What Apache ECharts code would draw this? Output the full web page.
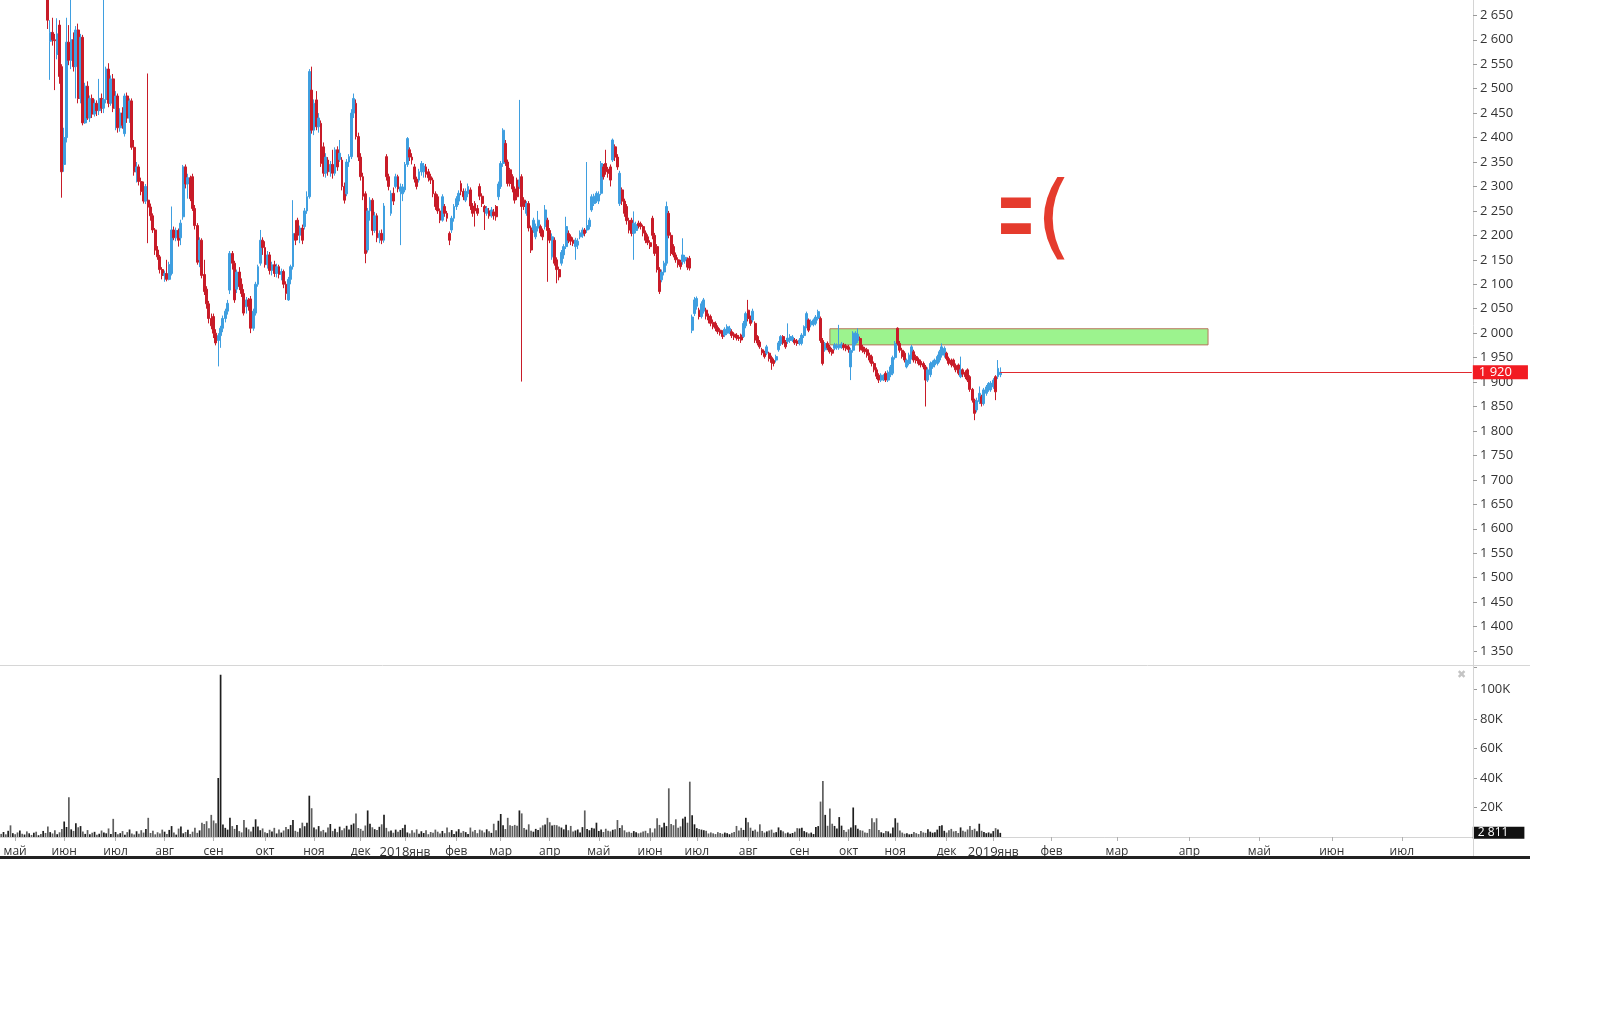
<!DOCTYPE html>
<html>
<head>
<meta charset="utf-8">
<script src="https://cdn.jsdelivr.net/npm/echarts/dist/echarts.min.js"></script>
<style>
html,body{margin:0;padding:0;background:#fff;}
#chart{width:1600px;height:1013px;}
</style>
</head>
<body>
<div id="chart"></div>
<script>
// ---- month axis: names, years, number of slots (trading days; calendar days in the empty future part)
const monthNames = ['апр','май','июн','июл','авг','сен','окт','ноя','дек','янв','фев','мар','апр','май','июн','июл','авг','сен','окт','ноя','дек','янв','фев','мар','апр','май','июн','июл'];
const monthYears = [2017,2017,2017,2017,2017,2017,2017,2017,2017,2018,2018,2018,2018,2018,2018,2018,2018,2018,2018,2018,2018,2019,2019,2019,2019,2019,2019,2019];
const monthSlots = [6,21,22,21,21,22,21,20,19,22,19,21,21,22,20,22,22,21,20,22,20,25,28,31,30,31,30,31];

// ---- daily candles [open, close, low, high]
const ohlc2017 = [
[2760,2745,2730,2775],[2745,2752,2735,2770],[2752,2738,2728,2765],[2738,2760,2732,2772],[2760,2748,2736,2768],
[2748,2770,2740,2785],[2770,2755,2745,2790],[2755,2740,2728,2762],[2740,2752,2731,2766],[2752,2735,2722,2758],
[2735,2744,2720,2756],[2744,2726,2712,2750],[2726,2738,2715,2747],[2738,2722,2708,2744],[2722,2731,2710,2740],
[2731,2716,2702,2736],[2716,2725,2704,2734],[2725,2712,2700,2730],[2712,2720,2698,2728],[2720,2706,2692,2726],
[2706,2640,2622,2712],[2597,2615,2518,2640],[2615,2600,2588,2645],[2600,2598,2497,2612],[2570,2612,2560,2644],
[2630,2525,2510,2640],[2545,2330,2277,2550],[2345,2400,2330,2420],[2400,2595,2390,2645],[2595,2558,2548,2630],
[2558,2600,2540,2690],[2600,2545,2535,2615],[2545,2620,2480,2628],[2620,2480,2470,2633],[2480,2605,2470,2612],
[2605,2430,2425,2610],[2430,2505,2428,2512],[2505,2440,2436,2515],[2440,2480,2432,2486],[2480,2448,2440,2488],
[2448,2470,2443,2478],[2470,2455,2444,2476],[2455,2480,2446,2520],[2480,2460,2450,2490],[2460,2478,2450,2690],
[2478,2540,2470,2545],[2540,2470,2462,2552],[2470,2520,2465,2527],[2520,2460,2452,2530],[2460,2485,2415,2495],
[2485,2420,2410,2490],[2420,2450,2412,2460],[2450,2425,2418,2462],[2408,2485,2402,2490],[2485,2440,2430,2492],
[2440,2475,2430,2480],[2475,2380,2375,2480],[2380,2330,2322,2395],[2330,2340,2308,2350],[2340,2310,2302,2345],
[2310,2290,2282,2318],[2290,2270,2265,2310],[2270,2300,2264,2305],[2272,2258,2184,2531],[2258,2240,2230,2265],
[2240,2211,2205,2245],[2211,2170,2160,2215],[2170,2156,2150,2178],[2156,2130,2122,2160],[2130,2118,2110,2135],
[2118,2122,2105,2128],[2122,2110,2106,2150],[2110,2140,2108,2146],[2122,2211,2118,2259],[2211,2195,2190,2218],
[2195,2210,2188,2216],[2210,2190,2177,2214],[2195,2225,2180,2232],[2238,2340,2232,2344],[2340,2305,2296,2345],
[2305,2318,2275,2326],[2318,2275,2270,2322],[2320,2255,2250,2326],[2255,2220,2212,2262],[2220,2145,2140,2225],
[2150,2190,2135,2196],[2190,2118,2112,2194],[2120,2085,2078,2150],[2090,2060,2050,2096],[2060,2030,2020,2066],
[2030,2015,2008,2040],[2034,2000,1990,2040],[2000,1980,1975,2008],[1985,1995,1932,2000],[1995,2010,1970,2015],
[2010,2030,2002,2036],[2030,2045,2022,2050],[2045,2061,2038,2068],[2088,2163,2080,2168],[2163,2143,2130,2168],
[2143,2068,2062,2148],[2090,2125,2082,2130],[2125,2095,2088,2135],[2100,2081,2074,2112],[2081,2041,2036,2090],
[2054,2068,2040,2074],[2068,2055,2046,2072],[2070,2010,2000,2076],[2010,2045,2005,2050],[2041,2100,2036,2105],
[2100,2136,2095,2140],[2143,2190,2138,2211],[2190,2175,2160,2196],[2175,2140,2134,2188],[2140,2160,2132,2168],
[2160,2128,2120,2166],[2128,2140,2118,2146],[2140,2122,2115,2148],[2122,2136,2114,2142],[2136,2120,2112,2140],
[2120,2126,2108,2132],[2126,2100,2092,2130],[2100,2081,2068,2106],[2068,2110,2066,2115],[2110,2136,2100,2140],
[2136,2204,2130,2272],[2204,2190,2180,2231],[2231,2200,2190,2236],[2200,2215,2184,2220],[2215,2190,2182,2222],
[2218,2250,2212,2256],[2250,2279,2244,2290],[2279,2535,2275,2540],[2497,2415,2408,2545],[2415,2470,2405,2478],
[2477,2422,2415,2495],[2422,2440,2410,2450],[2429,2347,2340,2435],[2381,2327,2320,2390],[2327,2360,2318,2368],
[2354,2330,2322,2360],[2330,2345,2320,2352],[2345,2327,2316,2375],[2327,2375,2322,2380],[2375,2340,2332,2382],
[2355,2368,2350,2395],[2354,2300,2292,2360],[2300,2272,2265,2308],[2285,2350,2280,2356],[2350,2361,2340,2366],
[2361,2450,2356,2458],[2450,2480,2440,2490],[2470,2402,2396,2478],[2402,2360,2352,2410],[2360,2320,2312,2368],
[2320,2280,2272,2328],[2285,2163,2143,2290],[2170,2250,2165,2256],[2250,2272,2230,2278],[2272,2210,2200,2276],
[2210,2240,2205,2248],[2240,2195,2186,2245],[2195,2204,2184,2210],[2204,2190,2182,2212],[2190,2260,2185,2266],
[2361,2320,2312,2366],[2320,2300,2292,2326],[2245,2286,2240,2292],[2286,2270,2262,2298],[2300,2320,2296,2326],
[2320,2295,2288,2324],[2290,2299,2180,2306],[2285,2299,2270,2305]
];
const ohlc2018 = [
[2293,2345,2288,2350],[2345,2398,2340,2401],[2375,2360,2352,2380],[2360,2354,2345,2368],[2340,2315,2308,2346],
[2315,2300,2294,2320],[2313,2330,2308,2336],[2330,2347,2322,2352],[2330,2342,2318,2348],[2340,2325,2318,2346],
[2330,2318,2310,2336],[2320,2313,2305,2326],[2313,2285,2278,2318],[2285,2259,2252,2290],[2279,2250,2244,2284],
[2250,2231,2225,2255],[2231,2279,2228,2284],[2259,2245,2238,2264],[2245,2235,2228,2250],[2204,2190,2180,2208],
[2211,2235,2205,2240],[2235,2259,2228,2264],[2259,2275,2252,2280],[2270,2286,2262,2292],[2306,2290,2282,2312],
[2290,2279,2272,2296],[2272,2290,2268,2296],[2285,2300,2278,2306],[2293,2260,2252,2298],[2260,2245,2238,2266],
[2265,2250,2218,2270],[2255,2245,2240,2262],[2300,2280,2272,2306],[2280,2265,2258,2286],[2259,2248,2211,2262],
[2245,2255,2240,2260],[2250,2240,2234,2256],[2240,2252,2236,2258],[2248,2240,2232,2254],[2259,2238,2230,2262],
[2279,2305,2272,2310],[2300,2347,2295,2352],[2347,2415,2340,2419],[2388,2350,2342,2395],[2350,2306,2300,2355],
[2334,2306,2300,2338],[2320,2295,2288,2325],[2295,2272,2265,2300],[2313,2279,2272,2318],[2300,2313,2295,2477],
[2320,2259,1901,2325],[2272,2259,2252,2278],[2245,2265,2240,2270],[2265,2215,2208,2270],[2215,2170,2164,2220],
[2211,2231,2205,2236],[2197,2218,2192,2224],[2215,2231,2208,2250],[2218,2205,2198,2222],[2210,2197,2190,2214],
[2218,2252,2212,2262],[2231,2210,2105,2236],[2210,2190,2184,2215],[2156,2197,2150,2204],[2190,2143,2138,2196],
[2150,2130,2102,2155],[2130,2115,2108,2136],[2143,2165,2138,2170],[2160,2177,2152,2182],[2177,2218,2172,2238],
[2204,2190,2184,2210],[2197,2188,2180,2202],[2190,2184,2178,2196],[2177,2190,2150,2195],[2180,2188,2172,2194],
[2197,2205,2192,2210],[2200,2211,2195,2216],[2211,2204,2198,2215],[2211,2220,2205,2350],[2218,2231,2212,2236],
[2252,2279,2248,2284],[2265,2280,2260,2285],[2272,2286,2266,2290],[2270,2284,2264,2290],[2286,2347,2282,2352],
[2340,2320,2314,2346],[2347,2330,2324,2375],[2335,2327,2318,2340],[2340,2313,2300,2345],[2354,2395,2350,2398],
[2381,2360,2352,2386],[2360,2340,2334,2366],[2265,2327,2260,2332],[2293,2270,2262,2298],[2270,2245,2238,2275],
[2259,2230,2222,2264],[2230,2211,2204,2236],[2231,2204,2198,2236],[2204,2225,2150,2249],[2210,2222,2204,2228],
[2225,2220,2214,2230],[2224,2218,2212,2228],[2218,2205,2198,2222],[2205,2190,2184,2210],[2197,2185,2180,2202],
[2185,2177,2172,2190],[2235,2200,2192,2240],[2200,2163,2158,2205],[2177,2130,2124,2182],[2130,2085,2080,2135],
[2109,2125,2104,2130],[2125,2143,2118,2148],[2143,2259,2138,2269],[2245,2200,2194,2250],[2200,2163,2158,2206],
[2177,2160,2155,2182],[2160,2150,2144,2165],[2150,2140,2134,2155],[2145,2136,2130,2150],[2146,2160,2140,2194],
[2148,2155,2142,2160],[2150,2135,2129,2155],[2153,2133,2128,2158],
[2006,2033,2000,2038],[2040,2068,2035,2074],[2055,2071,2048,2075],[2047,2034,2028,2052],[2034,2060,2030,2065],
[2045,2068,2040,2072],[2047,2035,2028,2052],[2035,2027,2020,2040],[2034,2020,2014,2038],[2022,2013,2008,2028],
[2020,2010,2004,2024],[2012,2003,1998,2016],[2006,2000,1995,2010],[2003,1993,1988,2006],[1996,2008,1992,2012],
[2000,2013,1996,2018],[2002,2010,1998,2015],[2003,1995,1990,2008],[1998,1992,1986,2002],[1996,1990,1985,2000],
[1992,1989,1984,1996],[1996,1986,1980,1999],[1993,2020,1990,2025],[2015,2040,2010,2044],[2047,2030,2024,2068],
[2030,2020,2015,2036],[2027,2045,2022,2050],[2020,1986,1980,2024],[1993,1980,1975,1996],[1982,1972,1968,1986],
[1966,1960,1955,1970],[1960,1952,1948,1964],[1959,1972,1955,1976],[1959,1948,1942,1962],[1950,1940,1925,1954],
[1944,1938,1932,1948],[1945,1952,1940,1956],[1966,1980,1962,1984],[1978,1993,1974,1996],[1993,1980,1976,1996],
[1982,1972,1968,1986],[1983,1990,1978,2020],[1985,1993,1980,1998],[1986,1992,1982,1996],[1986,1980,1976,1990],
[1984,1979,1974,1988],[1979,1986,1975,1990],[1979,1996,1975,2000],[1995,2013,1990,2016],[2013,2040,2010,2044],
[2027,2006,2002,2030],[2017,2024,2012,2028],[2018,2027,2014,2030],[2020,2033,2016,2037],[2030,2044,2026,2048],
[2030,1985,1980,2034],[1985,1938,1934,1990],[1966,1979,1962,1982],[1979,1970,1965,1983],[1972,1962,1958,1976],
[1966,1959,1954,1970],[1969,1976,1965,1980],[1970,1975,1966,1979],[1970,1976,1966,2017],[1972,1978,1968,1982],
[1976,1970,1965,1980],[1974,1968,1963,1978],[1972,1966,1960,1976],[1931,1965,1904,1970],[1965,2000,1960,2004],
[1979,2000,1975,2004],[1985,1998,1980,2010],[1989,1966,1962,1993],[1972,1965,1960,1976],[1968,1962,1957,1972],
[1966,1955,1950,1970],[1955,1945,1940,1960],[1952,1938,1932,1956],[1938,1925,1920,1942],[1925,1912,1906,1930],
[1914,1904,1898,1918],[1904,1914,1900,1918],[1906,1912,1902,1916],[1918,1904,1900,1922],[1904,1920,1900,1924],
[1915,1931,1910,1935],[1918,1950,1914,1954],[1950,1979,1946,1984],[2010,1979,1975,2012],[1979,1965,1960,1984],
[1965,1952,1948,1970],[1959,1945,1940,1963],[1931,1945,1928,1948],[1938,1955,1934,1960],[1950,1972,1946,1976],
[1962,1945,1940,1966],[1952,1944,1938,1956],[1946,1938,1934,1950],[1942,1935,1930,1946],[1938,1931,1926,1942],
[1931,1904,1850,1935],[1904,1925,1900,1930],[1915,1938,1910,1942],[1931,1940,1927,1944],[1935,1945,1930,1948],
[1938,1952,1934,1956],[1945,1962,1940,1966],[1955,1972,1950,1979],[1955,1969,1950,1973],[1959,1948,1944,1962],
[1948,1938,1934,1952],[1945,1935,1930,1948],[1945,1934,1930,1948],[1934,1925,1920,1938],[1935,1918,1914,1938],
[1911,1925,1908,1952],[1925,1916,1910,1928],[1920,1911,1906,1924],[1925,1904,1900,1928],[1911,1885,1880,1914],
[1885,1863,1858,1888],[1863,1836,1822,1866],[1843,1862,1838,1868],[1860,1877,1855,1891],[1870,1856,1850,1874],
[1856,1884,1852,1888],[1877,1890,1872,1894],[1884,1897,1880,1900],[1884,1898,1880,1902]
];
const ohlc2019 = [
[1890,1904,1886,1908],[1911,1880,1863,1914],[1911,1928,1906,1945],[1915,1920,1910,1930]
];

// ---- daily volume, thousands
const vol2017 = [
2.1,3.4,1.8,4.2,7.9,2.6,1.9,3.1,4.4,2.2, 1.7,3.8,2.5,1.4,2.9,3.6,1.2,2.0,4.1,2.7,
7.2,3.3,2.4,4.6,1.9,3.2,5.4,10.5,6.8,27.0, 5.2,4.1,9.4,6.6,7.4,3.8,2.1,4.7,1.8,2.9,
3.5,1.6,2.2,4.4,3.1,2.5,5.8,2.0,12.3,3.4, 1.9,2.6,4.0,1.5,3.3,5.1,2.4,1.7,3.9,2.2,
4.6,3.0,5.5,13.0,2.7,4.3,1.8,3.2,2.4,5.0, 3.6,2.1,4.8,7.4,3.1,1.6,5.7,7.2,2.5,3.4,
4.9,2.0,3.6,6.3,2.8,4.5,9.6,8.8,10.7,6.0, 15.0,11.2,9.4,40.0,110.0,8.5,6.2,5.0,13.0,7.4,
5.5,8.2,4.0,3.1,11.6,6.4,5.2,3.8,6.9,12.0, 7.1,4.6,5.8,3.2,2.6,4.9,3.7,6.2,2.4,5.1,
3.0,4.4,6.7,5.3,8.1,11.5,4.2,3.5,6.0,9.7, 7.3,9.7,28.0,19.5,6.4,5.2,7.4,3.9,4.8,3.1,
6.5,8.8,4.0,5.6,3.3,7.0,4.5,5.9,7.6,5.0, 8.3,9.2,16.0,6.1,5.5,4.2,7.8,18.0,9.0,6.6,
5.3,4.7,6.9,8.6,15.0,6.2,3.8,4.4,2.9,5.0, 3.6,4.8,6.0
];
const vol2018 = [
8.3,3.1,2.4,4.5,3.0,5.2,2.2, 3.9,2.7,4.6,1.9,3.4,2.8,5.0,3.6,2.3,4.1,
2.6,6.5,3.2,4.7,2.0,3.8,5.3,2.9,4.0,3.3, 2.1,6.4,3.7,4.8,2.6,5.0,4.4,3.1,5.2,3.9,
2.8,9.0,4.6,11.0,15.6,8.0,5.4,13.0,8.0,7.5, 8.2,7.6,18.0,16.0,6.1,5.0,8.6,4.2,3.6,5.5,
4.8,6.4,7.9,8.5,13.0,10.0,7.8,8.2,8.0,7.1, 6.4,5.2,8.3,4.6,7.5,3.8,4.4,5.1,3.0,6.7,
18.0,5.4,4.6,6.2,5.8,9.7,4.1,5.0,3.4,5.6, 4.2,3.8,4.9,5.3,11.5,6.1,8.0,4.5,3.2,3.6,
2.8,4.0,3.3,2.5,3.0,3.7,4.2,2.6,6.0,3.1, 5.8,12.7,8.2,6.5,9.7,7.4,33.0,8.8,8.0,12.0,
6.3,7.2,12.5,13.8,9.7,37.5,14.7,8.6,6.0,5.4, 5.0,4.6,4.2,2.4,3.1,2.5,2.0,3.3,2.7,2.2,
3.0,2.6,1.9,2.8,3.4,7.5,4.4,6.2,4.8,13.0, 10.0,6.3,4.2,5.0,3.6,8.6,4.1,3.0,3.8,4.4,
5.0,2.9,3.3,6.5,4.6,3.8,2.5,3.1,2.2,2.7, 3.6,6.0,5.8,6.3,4.0,3.2,2.4,3.0,2.0,6.8,
7.4,24.0,38.0,15.0,7.6,19.4,9.0,7.5,5.8,13.5, 7.7,4.8,3.5,5.2,6.5,20.0,8.0,5.6,4.6,4.3,
3.0,2.8,5.4,12.7,10.0,12.7,4.8,3.2,2.6,4.1, 3.8,2.4,6.5,12.7,9.7,4.4,3.0,2.2,2.5,1.8,
2.1,3.4,2.6,2.0,4.0,3.1,2.8,5.2,3.6,2.9, 3.3,5.0,7.5,8.0,4.2,3.0,4.5,5.5,3.8,4.1,
2.7,6.5,4.3,3.6,5.1,7.5,4.8,5.6,3.9,9.0, 4.2,3.4,2.6,3.1,2.4
];
const vol2019 = [4.0,6.0,5.0,2.811];

// ---- resistance zone drawn on the chart (bar slots, prices)
const zoneFromSlot = 355, zoneToSlot = 517;
const zoneLow = 1976, zoneHigh = 2009;

// ---- axis ticks / ranges
const priceMin = 1350, priceMax = 2681.3, priceStep = 50;
const volMax = 115.25, volStep = 20;

// ================== build ==================
const categories = [];
const labelAt = {};
monthNames.forEach((m, mi) => {
  for (let d = 0; d < monthSlots[mi]; d++) {
    if (d === 0 && mi > 0) {
      labelAt[categories.length] = (m === 'янв') ? '{y|' + monthYears[mi] + '}{m|' + m + '}' : m;
    }
    categories.push(monthYears[mi] + '-' + mi + '-' + d);
  }
});
const ohlc = ohlc2017.concat(ohlc2018, ohlc2019);
const vols = vol2017.concat(vol2018, vol2019);
const last = ohlc.length - 1;
const lastClose = ohlc[last][1];
const lastVol = vols[vols.length - 1];

const UP = '#3f9fe0', DOWN = '#c81b28';
const volData = vols.map((v, i) => ({
  value: v,
  itemStyle: { color: ohlc[i][1] >= ohlc[i][0] ? '#1e1e1e' : '#5e5e5e' }
}));

function sp(v) {
  v = Math.round(v);
  if (v >= 1000) return Math.floor(v / 1000) + ' ' + String(v % 1000).padStart(3, '0');
  return String(v);
}
const FONT = 'Open Sans';
const isLabel = (i) => labelAt[i] !== undefined;
const onStep = (v, s) => Math.abs(v / s - Math.round(v / s)) < 1e-6;

const chart = echarts.init(document.getElementById('chart'), null, { renderer: 'canvas' });
const option = {
  animation: false,
  backgroundColor: '#ffffff',
  grid: [
    { left: 0, width: 1473, top: 0, height: 651 },
    { left: 0, width: 1473, top: 667, height: 170 }
  ],
  xAxis: [
    { type: 'category', gridIndex: 0, data: categories, boundaryGap: true,
      axisLine: { show: false }, axisTick: { show: false }, axisLabel: { show: false }, splitLine: { show: false } },
    { type: 'category', gridIndex: 1, data: categories, boundaryGap: true,
      axisLine: { show: true, lineStyle: { color: '#d4d4d4', width: 1 } },
      axisTick: { show: true, alignWithLabel: true, interval: (i) => isLabel(i), length: 4, lineStyle: { color: '#b0b0b0' } },
      axisLabel: { interval: (i) => isLabel(i), formatter: (v, i) => labelAt[i] || '', margin: 9,
        color: '#333', fontSize: 12, fontFamily: FONT,
        rich: { y: { fontSize: 13, color: '#333', fontFamily: FONT }, m: { fontSize: 12, color: '#333', fontFamily: FONT } } },
      splitLine: { show: false } }
  ],
  yAxis: [
    { type: 'value', gridIndex: 0, position: 'right', min: priceMin, max: priceMax, interval: priceStep,
      axisLine: { show: true, lineStyle: { color: '#d4d4d4' } },
      axisTick: { show: true, length: 4, lineStyle: { color: '#9a9a9a' } },
      axisLabel: { margin: 7, color: '#333', fontSize: 13, fontFamily: FONT, showMaxLabel: false,
        formatter: (v) => onStep(v, priceStep) ? sp(v) : '' },
      splitLine: { show: false } },
    { type: 'value', gridIndex: 1, position: 'right', min: 0, max: volMax, interval: volStep,
      axisLine: { show: true, lineStyle: { color: '#d4d4d4' } },
      axisTick: { show: true, length: 4, lineStyle: { color: '#9a9a9a' } },
      axisLabel: { margin: 7, color: '#333', fontSize: 13, fontFamily: FONT,
        formatter: (v) => (v > 0 && onStep(v, volStep)) ? (v + 'K') : '' },
      splitLine: { show: false } }
  ],
  series: [
    { type: 'candlestick', xAxisIndex: 0, yAxisIndex: 0, data: ohlc, barWidth: 2.4, clip: true,
      itemStyle: { color: UP, color0: DOWN, borderColor: UP, borderColor0: DOWN, borderWidth: 1 },
      markArea: { silent: true,
        itemStyle: { color: 'rgba(118,238,98,0.72)', borderColor: '#b8745c', borderWidth: 1 },
        data: [[ { xAxis: categories[zoneFromSlot], yAxis: zoneHigh }, { xAxis: categories[zoneToSlot], yAxis: zoneLow } ]] },
      markLine: { silent: true, symbol: ['none', 'none'], animation: false,
        lineStyle: { color: '#e02a2f', width: 1, type: 'solid' },
        label: { show: true, position: 'end', distance: 1, formatter: sp(lastClose),
          backgroundColor: '#f21b22', color: '#fff', padding: [1, 16, 0, 6], fontSize: 13, fontFamily: FONT },
        data: [[ { coord: [categories[last], lastClose] }, { coord: [categories[categories.length - 1], lastClose] } ]] }
    },
    { type: 'bar', xAxisIndex: 1, yAxisIndex: 1, data: volData, barWidth: 1.7,
      markLine: { silent: true, symbol: ['none', 'none'], animation: false,
        lineStyle: { color: 'rgba(0,0,0,0)', width: 0 },
        label: { show: true, position: 'end', distance: 1, formatter: sp(lastVol * 1000),
          backgroundColor: '#111', color: '#fff', padding: [0, 16, 0, 5], fontSize: 12, fontFamily: FONT },
        data: [[ { coord: [categories[last], lastVol] }, { coord: [categories[categories.length - 1], lastVol] } ]] }
    }
  ],
  graphic: [
    { type: 'line', shape: { x1: 0, y1: 665.5, x2: 1530, y2: 665.5 }, style: { stroke: '#d6d6d6', lineWidth: 1 }, z: 10 },
    { type: 'line', shape: { x1: 1473.5, y1: 640, x2: 1473.5, y2: 856 }, style: { stroke: '#d4d4d4', lineWidth: 1 }, z: 10 },
    { type: 'rect', shape: { x: 0, y: 856, width: 1530, height: 3 }, style: { fill: '#222' }, z: 10 },
    { type: 'text', x: 1461, y: 675, style: { text: '✖', fill: '#c4c4c4', fontSize: 11, align: 'center', verticalAlign: 'middle' }, z: 10 },
    { type: 'text', x: 1016, y: 223, scaleX: 0.85, scaleY: 2.3,
      style: { text: '=', fill: '#e53b2d', fontSize: 56, fontFamily: 'DejaVu Sans', align: 'center', verticalAlign: 'middle' }, z: 10 },
    { type: 'text', x: 1054, y: 224,
      style: { text: '(', fill: '#e53b2d', fontSize: 92, fontFamily: 'DejaVu Sans', align: 'center', verticalAlign: 'middle' }, z: 10 }
  ]
};
chart.setOption(option);
</script>
</body>
</html>
